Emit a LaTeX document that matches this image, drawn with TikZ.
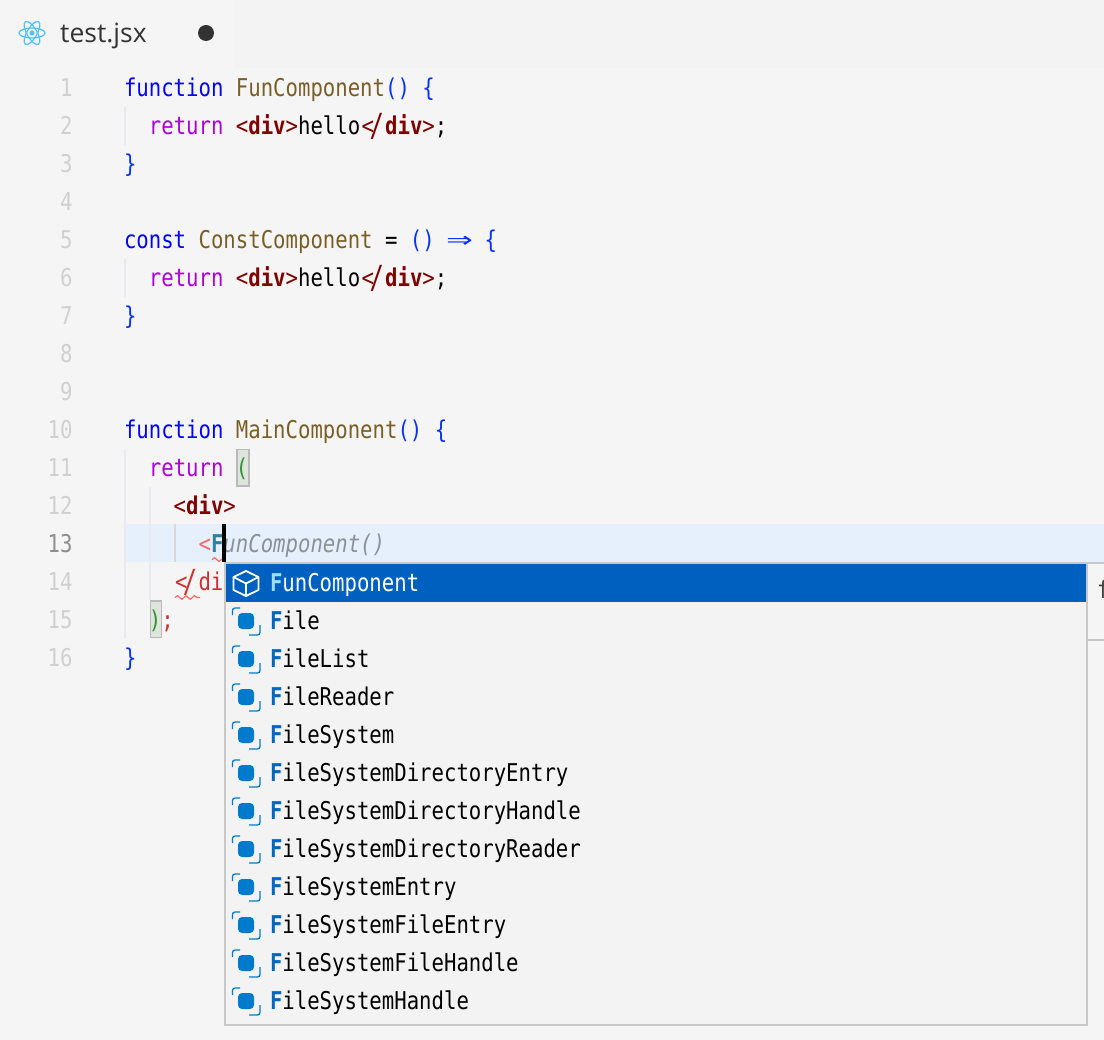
\documentclass[tikz,border=0pt]{standalone}
\usepackage{fontspec}
\usepackage{graphicx}
\usetikzlibrary{decorations.pathmorphing}
\newfontfamily\codefam[FakeStretch=0.843]{DejaVu Sans Mono}
\newfontfamily\tabfam{Open Sans}
\definecolor{bgc}{HTML}{F5F5F5}
\definecolor{tabbar}{HTML}{F3F3F3}
\definecolor{linehl}{HTML}{E6F0FC}
\definecolor{guide}{HTML}{E9E9EE}
\definecolor{guideact}{HTML}{D8D8D8}
\definecolor{numc}{HTML}{D0D0D0}
\definecolor{numact}{HTML}{8E8E8E}
\definecolor{kwblue}{HTML}{0000FF}
\definecolor{brace}{HTML}{0431FA}
\definecolor{fname}{HTML}{795E26}
\definecolor{kwret}{HTML}{AF00DB}
\definecolor{tagc}{HTML}{800000}
\definecolor{errc}{HTML}{CD3131}
\definecolor{errlt}{HTML}{F66A6A}
\definecolor{matchc}{HTML}{2F7F9F}
\definecolor{ghost}{HTML}{8A9299}
\definecolor{greenb}{HTML}{319331}
\definecolor{brbg}{HTML}{DDE5DC}
\definecolor{brline}{HTML}{B9B9B9}
\definecolor{widgetbg}{HTML}{F3F3F3}
\definecolor{widgetln}{HTML}{C8C8C8}
\definecolor{selc}{HTML}{0060C0}
\definecolor{selmatch}{HTML}{9DDDFF}
\definecolor{sugmatch}{HTML}{0066BF}
\definecolor{iconc}{HTML}{007ACC}
\definecolor{reactc}{HTML}{4FC3F7}
\newcommand\ClosLig{\makebox[24.86pt][c]{\textless\kern-4.5pt\raisebox{-2pt}{\scalebox{1.15}[1.3]{/}}}}
\newcommand\Tg[1]{\textcolor{tagc}{\textless\textbf{#1}\textgreater}}
\newcommand\TgC[1]{\textcolor{tagc}{\ClosLig\textbf{#1}\textgreater}}
\newcommand\Kw[1]{\textcolor{kwblue}{#1}}
\newcommand\Br[1]{\textcolor{brace}{#1}}
\newcommand\Fn[1]{\textcolor{fname}{#1}}
\newcommand\Rt[1]{\textcolor{kwret}{#1}}
\newcommand\Mt[1]{\textcolor{sugmatch}{\textbf{#1}}}
\tikzset{
  codetext/.style={anchor=base west,inner sep=0pt,outer sep=0pt,font=\codefam\fontsize{24.5}{24.5}\selectfont},
  numtext/.style={anchor=base east,inner sep=0pt,outer sep=0pt,text=numc,font=\codefam\fontsize{24.5}{24.5}\selectfont},
  sugtext/.style={codetext,text=black},
  guideline/.style={draw=guide,line width=1.6pt},
  bracketbox/.style={fill=brbg,draw=brline,line width=1.6pt},
  squiggle/.style={draw=errlt,line width=1.2pt,decorate,decoration={snake,amplitude=1.8pt,segment length=8.4pt}},
  classicon/.pic={
    \draw[iconc,line width=1.3pt,rounded corners=2.5pt] (0.5,5) -- (0.5,-2) -- (8,-2);
    \draw[iconc,line width=1.3pt,rounded corners=2.5pt] (28,15) -- (28,25) -- (17,25);
    \fill[iconc,rounded corners=4pt] (6,3) rectangle (22,19);
  },
}
\begin{document}
\begin{tikzpicture}[x=1pt,y=-1pt]
\useasboundingbox (0,0) rectangle (1104,1040);
\fill[bgc] (0,0) rectangle (1104,1040);
\fill[tabbar] (234,0) rectangle (1104,68);
% react icon
\coordinate (rc) at (32,33);
\foreach \a in {0,60,120}
  \draw[reactc,line width=1.2pt,rotate around={\a:(rc)}] (rc) ellipse (13 and 5);
\fill[reactc] (rc) circle (2.6);
\node[anchor=base west,inner sep=0pt,text=black!80,font=\tabfam\fontsize{26.5}{26.5}\selectfont] (tabname) at (60,43) {test.jsx};
\fill[black!80] (206,33) circle (8);
% current line
\fill[linehl] (125,524) rectangle (1104,562);
% guides
\draw[guideline] (125,107) -- (125,145);
\draw[guideline] (125,259) -- (125,297);
\draw[guideline] (125,449) -- (125,638);
\draw[guideline] (150,487) -- (150,600);
\draw[guideline,draw=guideact] (175,524) -- (175,562);
% bracket highlights
\filldraw[bracketbox] (237,449.5) rectangle (249,486);
\filldraw[bracketbox] (150.5,601) rectangle (161.5,637.5);
% line numbers
\foreach \n in {1,...,16}{
  \ifnum\n=13 \def\numcol{numact}\else \def\numcol{numc}\fi
  \node[numtext,text=\numcol] (num\n) at (72.5,{96.5+38*(\n-1)}) {\n};
}
% code
\node[codetext] (c1) at (124,96.5) {\Kw{function} \Fn{FunComponent}\Br{() \{}};
\node[codetext] (c2) at (148.9,134.5) {\Rt{return} \Tg{div}hello\TgC{div};};
\node[codetext] (c3) at (124,172.5) {\Br{\}}};
\node[codetext] (c5) at (124,248.5) {\Kw{const} \Fn{ConstComponent} = \Br{()} \Br{\makebox[24.86pt][c]{\scalebox{2.1}[1.15]{⇒}}} \Br{\{}};
\node[codetext] (c6) at (148.9,286.5) {\Rt{return} \Tg{div}hello\TgC{div};};
\node[codetext] (c7) at (124,324.5) {\Br{\}}};
\node[codetext] (c10) at (124,438.5) {\Kw{function} \Fn{MainComponent}\Br{() \{}};
\node[codetext] (c11) at (148.9,476.5) {\Rt{return} \textcolor{greenb}{(}};
\node[codetext] (c12) at (173.7,514.5) {\Tg{div}};
\node[codetext] (c13) at (198.6,552.5) {\textcolor{errlt}{\textless}\textcolor{matchc}{\textbf{F}}\textcolor{ghost}{\itshape unComponent()}};
\node[codetext,text=errc] (c14) at (173.7,590.5) {\ClosLig di};
\node[codetext] (c15) at (148.9,628.5) {\textcolor{greenb}{)}\textcolor{errc}{;}};
\node[codetext] (c16) at (124,666.5) {\Br{\}}};
% squiggles
\coordinate (sq1a) at (175,597.5); \coordinate (sq1b) at (200,597.5);
\draw[squiggle] (sq1a) -- (sq1b);
\coordinate (sq2a) at (212,559.5); \coordinate (sq2b) at (224,559.5);
\draw[squiggle] (sq2a) -- (sq2b);
% suggest widget
\filldraw[fill=widgetbg,draw=widgetln,line width=2pt] (225,563) rectangle (1087,1025);
\fill[selc] (226,564) rectangle (1086,602);
\begin{scope}
  \clip (1088,564) rectangle (1104,640);
  \node[codetext,text=black!75] (detail) at (1097,598) {f};
\end{scope}
\draw[widgetln,line width=2pt] (1087,640) -- (1104,640);
\draw[widgetln,line width=2pt] (1087,563) -- (1104,563);
% cursor
\fill[black] (222,524) rectangle (226,562);
% selected row
\draw[white,line width=1.8pt,line join=round] (246,571) -- (258.5,577) -- (258.5,590) -- (246,596) -- (233.5,590) -- (233.5,577) -- cycle;
\draw[white,line width=1.8pt,line join=round] (233.5,577) -- (246,583.5) -- (258.5,577) (246,583.5) -- (246,596);
\node[sugtext,text=white] (s1) at (270,591.5) {\textcolor{selmatch}{\textbf{F}}unComponent};
% other rows
\foreach \row/\txt [count=\i from 2] in {
  621/ile, 659/ileList, 697/ileReader, 735/ileSystem,
  773/ileSystemDirectoryEntry, 811/ileSystemDirectoryHandle,
  849/ileSystemDirectoryReader, 887/ileSystemEntry,
  925/ileSystemFileEntry, 963/ileSystemFileHandle, 1001/ileSystemHandle}{
  \pic at (232,{\row-11}) {classicon};
  \node[sugtext] (s\i) at (270,{\row+8.5}) {\Mt{F}\txt};
}
\end{tikzpicture}
\end{document}
